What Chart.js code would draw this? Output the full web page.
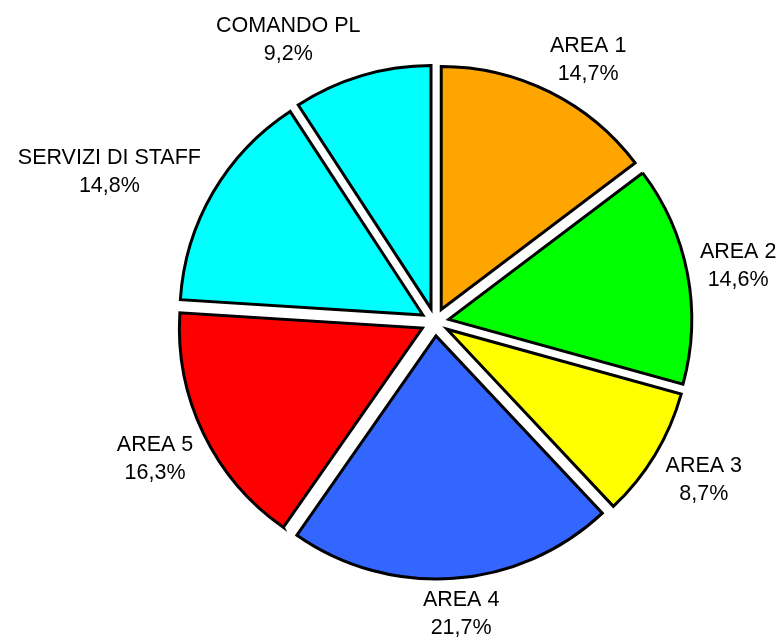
<!DOCTYPE html>
<html>
<head>
<meta charset="utf-8">
<script src="https://cdn.jsdelivr.net/npm/chart.js@4"></script>
<style>
  html, body { margin: 0; padding: 0; background: #fff; }
  #wrap { width: 778px; height: 643px; position: relative; }
</style>
</head>
<body>
<div id="wrap"><canvas id="torta"></canvas></div>
<script>
// dati del grafico
const categorie = ['AREA 1', 'AREA 2', 'AREA 3', 'AREA 4', 'AREA 5', 'SERVIZI DI STAFF', 'COMANDO PL'];
const valori = [14.7, 14.6, 8.7, 21.7, 16.3, 14.8, 9.2];

const colori = ['#ffa500', '#00ff00', '#ffff00', '#3366ff', '#ff0000', '#00ffff', '#00ffff'];

const RAGGIO = 243;
const ESPLOSO = 14;
const FONT = '21.5px "Liberation Sans", Arial, sans-serif';
// piccoli spostamenti angolari (gradi) delle etichette, come nell'originale
const spostaEtichette = [3.7, 0, -1, -1, 0, -5.3, -10.8];

// sposta ogni fetta verso l'esterno lungo la sua bisettrice
const esplodi = {
    id: 'esplodi',
    afterUpdate(chart) {
        chart.getDatasetMeta(0).data.forEach(arc => {
            const mid = (arc.startAngle + arc.endAngle) / 2;
            arc.x += Math.cos(mid) * ESPLOSO;
            arc.y += Math.sin(mid) * ESPLOSO;
        });
    }
};

// etichette esterne: nome + percentuale
const etichette = {
    id: 'etichette',
    afterDatasetsDraw(chart) {
        const ctx = chart.ctx;
        const area = chart.chartArea;
        const cx = (area.left + area.right) / 2;
        const cy = (area.top + area.bottom) / 2;
        const totale = valori.reduce((a, b) => a + b, 0);
        ctx.save();
        ctx.font = FONT;
        ctx.fillStyle = '#000';
        ctx.textAlign = 'center';
        ctx.textBaseline = 'alphabetic';
        chart.getDatasetMeta(0).data.forEach((arc, i) => {
            const mid = (arc.startAngle + arc.endAngle) / 2 + spostaEtichette[i] * Math.PI / 180;
            const ux = Math.cos(mid), uy = Math.sin(mid);
            const riga1 = categorie[i];
            const riga2 = (valori[i] / totale * 100).toFixed(1).replace('.', ',') + '%';
            const w = Math.max(ctx.measureText(riga1).width, ctx.measureText(riga2).width);
            const h = 43;
            const e = Math.abs(ux) * w / 2 + Math.abs(uy) * h / 2;
            const d = RAGGIO + 24 + e;
            const x = cx + ux * d;
            const y = cy + uy * d;
            ctx.fillText(riga1, x, y - 14 + 7.7);
            ctx.fillText(riga2, x, y + 14 + 7.7);
        });
        ctx.restore();
    }
};

new Chart(document.getElementById('torta'), {
    type: 'pie',
    data: {
        labels: categorie,
        datasets: [{
            data: valori,
            backgroundColor: colori,
            borderColor: '#000',
            borderWidth: 3,
            borderJoinStyle: 'miter',
            radius: RAGGIO
        }]
    },
    options: {
        responsive: true,
        maintainAspectRatio: false,
        animation: false,
        events: [],
        layout: { padding: { left: 92, right: 0, top: 1, bottom: 0 } },
        plugins: {
            legend: { display: false },
            tooltip: { enabled: false }
        }
    },
    plugins: [esplodi, etichette]
});
</script>
</body>
</html>
